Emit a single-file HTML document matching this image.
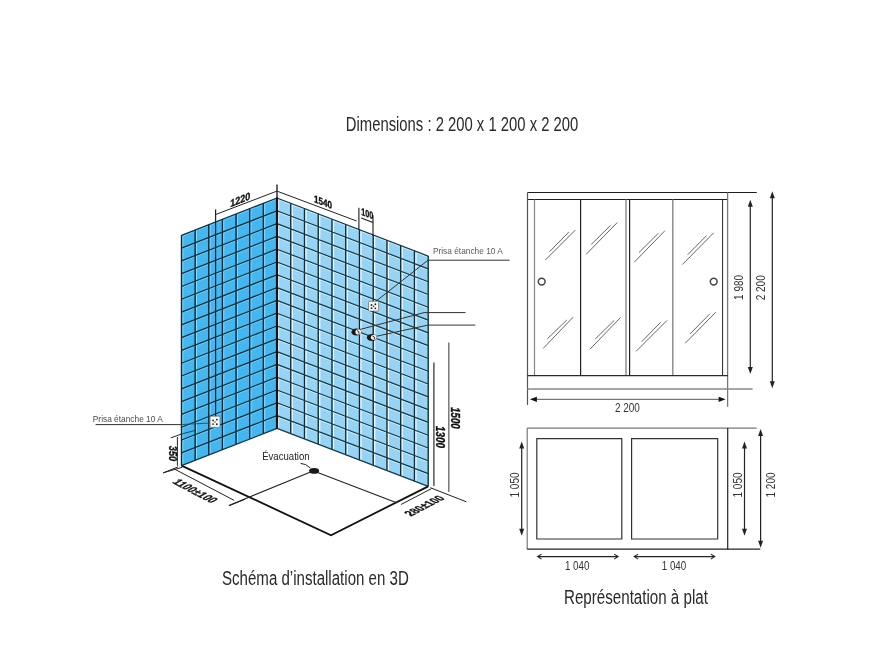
<!DOCTYPE html><html><head><meta charset="utf-8"><style>html,body{margin:0;padding:0;background:#fff;width:894px;height:670px;overflow:hidden}svg{display:block;will-change:transform}</style></head><body><svg width="894" height="670" viewBox="0 0 894 670">
<defs>
<linearGradient id="gl" x1="0" y1="0" x2="0.3" y2="1"><stop offset="0" stop-color="#6cc8f0"/><stop offset="1" stop-color="#2c9fe0"/></linearGradient>
<linearGradient id="gr" x1="0" y1="0" x2="1" y2="0"><stop offset="0" stop-color="#d8f1fb"/><stop offset="0.25" stop-color="#a6daf4"/><stop offset="1" stop-color="#98d3f1"/></linearGradient>
</defs>
<clipPath id="cl"><polygon points="181.50,235.30 277.00,198.00 277.00,428.40 181.50,465.60"/></clipPath>
<clipPath id="cr"><polygon points="277.00,198.00 428.20,256.10 428.20,486.40 277.00,428.40"/></clipPath>
<polygon points="181.50,235.30 277.00,198.00 277.00,428.40 181.50,465.60" fill="#45b6ee"/>
<polygon points="277.00,198.00 428.20,256.10 428.20,486.40 277.00,428.40" fill="#97d3f4"/>
<g clip-path="url(#cl)"><path d="M182.70 235.30L182.70 465.60M196.34 229.97L196.34 460.29M209.99 224.64L209.99 454.97M223.63 219.31L223.63 449.66M237.27 213.99L237.27 444.34M250.91 208.66L250.91 439.03M264.56 203.33L264.56 433.71M278.20 198.00L278.20 428.40" stroke="#8edcf8" stroke-width="1.2" fill="none"/><path d="M181.50 236.40L277.00 199.10M181.50 249.19L277.00 211.90M181.50 261.99L277.00 224.70M181.50 274.78L277.00 237.50M181.50 287.58L277.00 250.30M181.50 300.37L277.00 263.10M181.50 313.17L277.00 275.90M181.50 325.96L277.00 288.70M181.50 338.76L277.00 301.50M181.50 351.55L277.00 314.30M181.50 364.34L277.00 327.10M181.50 377.14L277.00 339.90M181.50 389.93L277.00 352.70M181.50 402.73L277.00 365.50M181.50 415.52L277.00 378.30M181.50 428.32L277.00 391.10M181.50 441.11L277.00 403.90M181.50 453.91L277.00 416.70M181.50 466.70L277.00 429.50" stroke="#7fd2f5" stroke-width="0.9" fill="none"/></g>
<g clip-path="url(#cr)"><path d="M278.30 198.00L278.30 428.40M292.05 203.28L292.05 433.67M305.79 208.56L305.79 438.95M319.54 213.85L319.54 444.22M333.28 219.13L333.28 449.49M347.03 224.41L347.03 454.76M360.77 229.69L360.77 460.04M374.52 234.97L374.52 465.31M388.26 240.25L388.26 470.58M402.01 245.54L402.01 475.85M415.75 250.82L415.75 481.13M429.50 256.10L429.50 486.40" stroke="#f2fbfe" stroke-width="1.6" fill="none"/><path d="M277.00 199.10L428.20 257.20M277.00 211.90L428.20 269.99M277.00 224.70L428.20 282.79M277.00 237.50L428.20 295.58M277.00 250.30L428.20 308.38M277.00 263.10L428.20 321.17M277.00 275.90L428.20 333.97M277.00 288.70L428.20 346.76M277.00 301.50L428.20 359.56M277.00 314.30L428.20 372.35M277.00 327.10L428.20 385.14M277.00 339.90L428.20 397.94M277.00 352.70L428.20 410.73M277.00 365.50L428.20 423.53M277.00 378.30L428.20 436.32M277.00 391.10L428.20 449.12M277.00 403.90L428.20 461.91M277.00 416.70L428.20 474.71M277.00 429.50L428.20 487.50" stroke="#d8f2fc" stroke-width="0.9" fill="none"/></g>
<path d="M181.50 235.30L181.50 465.60M195.14 229.97L195.14 460.29M208.79 224.64L208.79 454.97M222.43 219.31L222.43 449.66M236.07 213.99L236.07 444.34M249.71 208.66L249.71 439.03M263.36 203.33L263.36 433.71M277.00 198.00L277.00 428.40" stroke="#08283c" stroke-width="1.4" fill="none"/><path d="M181.50 235.30L277.00 198.00M181.50 248.09L277.00 210.80M181.50 260.89L277.00 223.60M181.50 273.68L277.00 236.40M181.50 286.48L277.00 249.20M181.50 299.27L277.00 262.00M181.50 312.07L277.00 274.80M181.50 324.86L277.00 287.60M181.50 337.66L277.00 300.40M181.50 350.45L277.00 313.20M181.50 363.24L277.00 326.00M181.50 376.04L277.00 338.80M181.50 388.83L277.00 351.60M181.50 401.63L277.00 364.40M181.50 414.42L277.00 377.20M181.50 427.22L277.00 390.00M181.50 440.01L277.00 402.80M181.50 452.81L277.00 415.60M181.50 465.60L277.00 428.40" stroke="#0b3348" stroke-width="1.25" fill="none"/>
<path d="M277.00 198.00L277.00 428.40M290.75 203.28L290.75 433.67M304.49 208.56L304.49 438.95M318.24 213.85L318.24 444.22M331.98 219.13L331.98 449.49M345.73 224.41L345.73 454.76M359.47 229.69L359.47 460.04M373.22 234.97L373.22 465.31M386.96 240.25L386.96 470.58M400.71 245.54L400.71 475.85M414.45 250.82L414.45 481.13M428.20 256.10L428.20 486.40" stroke="#0d2a36" stroke-width="1.35" fill="none"/><path d="M277.00 198.00L428.20 256.10M277.00 210.80L428.20 268.89M277.00 223.60L428.20 281.69M277.00 236.40L428.20 294.48M277.00 249.20L428.20 307.28M277.00 262.00L428.20 320.07M277.00 274.80L428.20 332.87M277.00 287.60L428.20 345.66M277.00 300.40L428.20 358.46M277.00 313.20L428.20 371.25M277.00 326.00L428.20 384.04M277.00 338.80L428.20 396.84M277.00 351.60L428.20 409.63M277.00 364.40L428.20 422.43M277.00 377.20L428.20 435.22M277.00 390.00L428.20 448.02M277.00 402.80L428.20 460.81M277.00 415.60L428.20 473.61M277.00 428.40L428.20 486.40" stroke="#153a4a" stroke-width="1.2" fill="none"/>
<path d="M277 197.5L277 428.6" stroke="#0a1520" stroke-width="2.2"/>
<path d="M215.6 209.5L215.6 417" stroke="#0c1c28" stroke-width="1.2"/>
<path d="M181.5 465.6L331 535.2L428.2 486.4" stroke="#111" stroke-width="1.8" fill="none"/>
<path d="M313 471L228.8 505.4M315 471.5L396.6 502.8" stroke="#222" stroke-width="1.1" fill="none"/>
<ellipse cx="314.1" cy="470.9" rx="5" ry="2.8" fill="#1a1a1a"/>
<path d="M300.6 463.4Q306 463.5 310.5 468.2" stroke="#222" stroke-width="1" fill="none"/>
<g stroke="#222" stroke-width="1" fill="none">
<path d="M215.5 209.9L215.5 230"/>
<path d="M215.5 214.6L276.7 191.2"/>
<path d="M277 184.5L277 198" stroke="#111" stroke-width="1.3"/>
<path d="M277.2 191.2L356.6 221"/>
<path d="M358.9 207.8L358.9 230M373 215.2L373 236M361.2 218L373 222.5" stroke="#1a1a1a" stroke-width="1.1"/>
<path d="M433.9 362.4L433.9 486.1" stroke="#555" stroke-width="1.5"/>
<path d="M448.8 342.5L448.8 491.9" stroke="#777" stroke-width="1.5"/>
<path d="M430.3 487.7L466.3 501.8"/>
<path d="M431.3 488.7L401 504.5"/>
<path d="M163.1 472.9L178.2 466.8M173.6 468.6L234 500.3M229 505.8L245 499.3"/>
<path d="M170.8 437.9L181.3 434.1M177.4 437L177.4 465.8M163.3 472.8L182.1 467.3"/><path d="M181.3 434.1L196 430.2" stroke="#0c3048" stroke-width="0.8"/>
</g>
<g stroke="#333" stroke-width="1" fill="none">
<path d="M428 260.2L509.6 260.2M428 260.2L375 302"/>
<path d="M424 312.6L465.5 312.6M424 312.6L358 330"/>
<path d="M428 325.1L475.4 325.1M428 325.1L373 337"/>
<path d="M95.6 424.6L181 424.6"/>
<path d="M181 424.6L211 423" stroke="#244" stroke-width="0.8"/>
</g>
<rect x="368.5" y="301.3" width="10.1" height="9.8" rx="1.2" fill="#f8f8f8" stroke="#555" stroke-width="0.6"/><circle cx="371.53" cy="305.024" r="0.9" fill="#222"/><circle cx="375.368" cy="304.24" r="0.9" fill="#222"/><circle cx="371.53" cy="308.16" r="0.9" fill="#222"/><circle cx="375.368" cy="308.356" r="0.9" fill="#222"/><circle cx="373.55" cy="306.396" r="0.8" fill="#444"/>
<rect x="210.1" y="416.2" width="9.9" height="11.2" rx="1.2" fill="#f8f8f8" stroke="#555" stroke-width="0.6"/><circle cx="213.07" cy="420.45599999999996" r="0.9" fill="#222"/><circle cx="216.832" cy="419.56" r="0.9" fill="#222"/><circle cx="213.07" cy="424.03999999999996" r="0.9" fill="#222"/><circle cx="216.832" cy="424.264" r="0.9" fill="#222"/><circle cx="215.04999999999998" cy="422.024" r="0.8" fill="#444"/>
<ellipse cx="356.4" cy="332.1" rx="5.1" ry="3.5" fill="#161616"/><ellipse cx="358.29999999999995" cy="331.90000000000003" rx="2.9" ry="2.6" fill="#eeeeee"/><path d="M357.0 330.5Q359.59999999999997 330.90000000000003 359.0 333.90000000000003" stroke="#222" stroke-width="0.9" fill="none"/>
<ellipse cx="371.9" cy="337.5" rx="5.1" ry="3.5" fill="#161616"/><ellipse cx="373.79999999999995" cy="337.3" rx="2.9" ry="2.6" fill="#eeeeee"/><path d="M372.5 335.9Q375.09999999999997 336.3 374.5 339.3" stroke="#222" stroke-width="0.9" fill="none"/>
<text x="0" y="0" transform="matrix(1.0000 -0.3939 0.0000 1.0000 240.30 203.30)" font-family="Liberation Sans" font-size="10.5" font-weight="bold" font-style="normal" fill="#111" stroke="#111" stroke-width="0.35" text-anchor="middle" textLength="20" lengthAdjust="spacingAndGlyphs">1220</text>
<text x="0" y="0" transform="matrix(1.0000 0.3939 0.0000 1.0000 323.00 205.60)" font-family="Liberation Sans" font-size="10.2" font-weight="bold" font-style="normal" fill="#111" stroke="#111" stroke-width="0.35" text-anchor="middle" textLength="18" lengthAdjust="spacingAndGlyphs">1540</text>
<text x="0" y="0" transform="matrix(1.0000 0.3939 0.0000 1.0000 367.20 217.00)" font-family="Liberation Sans" font-size="10" font-weight="bold" font-style="normal" fill="#111" stroke="#111" stroke-width="0.35" text-anchor="middle" textLength="12" lengthAdjust="spacingAndGlyphs">100</text>
<text x="435.5" y="437" font-family="Liberation Sans" font-size="12" font-weight="bold" font-style="italic" fill="#111" text-anchor="middle" textLength="22" lengthAdjust="spacingAndGlyphs" transform="rotate(90 435.5 437)" stroke="#111" stroke-width="0.35">1300</text>
<text x="450.5" y="418" font-family="Liberation Sans" font-size="12" font-weight="bold" font-style="italic" fill="#111" text-anchor="middle" textLength="21.5" lengthAdjust="spacingAndGlyphs" transform="rotate(90 450.5 418)" stroke="#111" stroke-width="0.35">1500</text>
<text x="169" y="453.5" font-family="Liberation Sans" font-size="11.5" font-weight="bold" font-style="italic" fill="#111" text-anchor="middle" textLength="15.5" lengthAdjust="spacingAndGlyphs" transform="rotate(90 169 453.5)" stroke="#111" stroke-width="0.35">350</text>
<text x="0" y="0" transform="matrix(0.8852 0.4651 -0.8890 0.4580 191.30 493.00)" font-family="Liberation Sans" font-size="12.5" font-weight="bold" font-style="normal" fill="#111" stroke="#111" stroke-width="0.35" text-anchor="middle" textLength="45" lengthAdjust="spacingAndGlyphs">1100±100</text>
<text x="0" y="0" transform="matrix(0.8890 -0.4580 0.9061 0.4230 428.30 507.60)" font-family="Liberation Sans" font-size="12.5" font-weight="bold" font-style="normal" fill="#111" stroke="#111" stroke-width="0.35" text-anchor="middle" textLength="39" lengthAdjust="spacingAndGlyphs">280±100</text>
<text x="262.2" y="459.9" font-family="Liberation Sans" font-size="10.2" font-weight="normal" font-style="normal" fill="#222" text-anchor="start" textLength="47.4" lengthAdjust="spacingAndGlyphs">Évacuation</text>
<text x="432.9" y="253.9" font-family="Liberation Sans" font-size="9.8" font-weight="normal" font-style="normal" fill="#5a5a5a" text-anchor="start" textLength="70" lengthAdjust="spacingAndGlyphs">Prisa étanche 10 A</text>
<text x="92.8" y="421.5" font-family="Liberation Sans" font-size="9.8" font-weight="normal" font-style="normal" fill="#4a4a4a" text-anchor="start" textLength="70" lengthAdjust="spacingAndGlyphs">Prisa étanche 10 A</text>
<g fill="none" stroke-width="1.2">
<path d="M527.5 192.5L756.8 192.5" stroke="#1e1e1e" stroke-width="1.1"/>
<path d="M527.5 199.5L727.9 199.5" stroke="#1e1e1e" stroke-width="1.1"/>
<path d="M527.5 192.5L527.5 405" stroke="#555"/>
<path d="M727.6 192.5L727.6 406.8" stroke="#777" stroke-width="1.3"/>
<path d="M534.5 199.5L534.5 375.6" stroke="#888"/>
<path d="M722.6 199.5L722.6 375.6" stroke="#222" stroke-width="1"/>
<path d="M580.6 199.5L580.6 375.6" stroke="#222"/>
<path d="M626 199.5L626 375.6" stroke="#888" stroke-width="1.4"/>
<path d="M629.6 199.5L629.6 375.6" stroke="#222"/>
<path d="M672.8 199.5L672.8 375.6" stroke="#888" stroke-width="1.4"/>
<path d="M527.5 375.6L727.9 375.6" stroke="#2a2a2a"/>
<path d="M527.5 389L752.6 389" stroke="#888" stroke-width="1.4"/>
</g>
<path d="M549.6 251.6L568.9 231.9M545.4 260.0L575.3 230.1M591.3 244.4L610.6 225.3M586.1 254.4L617.2 222.6M639.0 252.5L658.4 233.2M634.2 262.3L664.9 230.7M687.7 254.7L706.6 235.6M682.4 264.5L713.7 232.8M547.4 338.8L566.8 320.0M543.2 348.4L573.1 317.2M595.1 339.1L614.3 320.4M589.9 349.3L620.5 317.5M641.6 341.8L660.6 322.4M636.1 351.3L667.0 320.4M690.1 333.9L709.6 314.0M685.2 343.3L715.8 312.2" stroke="#555" stroke-width="0.9" fill="none"/>
<circle cx="541.7" cy="281.6" r="3.4" fill="none" stroke="#444" stroke-width="1.5"/>
<circle cx="713.7" cy="281.6" r="3.4" fill="none" stroke="#444" stroke-width="1.5"/>
<path d="M750.3 204.7L750.3 369" stroke="#222" stroke-width="1.2"/><path d="M750.3 199.7L747.8 206.7L752.8 206.7Z" fill="#222"/><path d="M750.3 374L747.8 367L752.8 367Z" fill="#222"/>
<path d="M772.3 196.3L772.3 383.3" stroke="#222" stroke-width="1.2"/><path d="M772.3 191.3L769.8 198.3L774.8 198.3Z" fill="#222"/><path d="M772.3 388.3L769.8 381.3L774.8 381.3Z" fill="#222"/>
<path d="M534.9 399.3L720.6 399.3" stroke="#777" stroke-width="1.3"/><path d="M529.9 399.3L536.9 396.7L536.9 401.90000000000003Z" fill="#111"/><path d="M725.6 399.3L718.6 396.7L718.6 401.90000000000003Z" fill="#111"/>
<text x="743.3" y="287.4" font-family="Liberation Sans" font-size="12.8" font-weight="normal" font-style="normal" fill="#333" text-anchor="middle" textLength="25" lengthAdjust="spacingAndGlyphs" transform="rotate(-90 743.3 287.4)">1 980</text>
<text x="764.9" y="287.8" font-family="Liberation Sans" font-size="12.8" font-weight="normal" font-style="normal" fill="#333" text-anchor="middle" textLength="25" lengthAdjust="spacingAndGlyphs" transform="rotate(-90 764.9 287.8)">2 200</text>
<text x="627.4" y="411.6" font-family="Liberation Sans" font-size="12.5" font-weight="normal" font-style="normal" fill="#333" text-anchor="middle" textLength="25" lengthAdjust="spacingAndGlyphs">2 200</text>
<g fill="none" stroke-width="1.2">
<path d="M527.2 428.1L756.7 428.1" stroke="#777"/>
<path d="M527.2 428.1L527.2 549.2" stroke="#777"/>
<path d="M527.2 549.2L760.3 549.2" stroke="#222"/>
<path d="M727.7 428.1L727.7 549.2" stroke="#222"/>
<path d="M536.8 438.6L621.8 438.6L621.8 539L536.8 539Z" stroke="#333"/>
<path d="M631.6 438.6L717.7 438.6L717.7 539L631.6 539Z" stroke="#333"/>
</g>
<path d="M521.7 446.5L521.7 530.8" stroke="#222" stroke-width="1.2"/><path d="M521.7 441.5L519.2 448.5L524.2 448.5Z" fill="#222"/><path d="M521.7 535.8L519.2 528.8L524.2 528.8Z" fill="#222"/>
<path d="M744.5 446.5L744.5 530.8" stroke="#222" stroke-width="1.2"/><path d="M744.5 441.5L742.0 448.5L747.0 448.5Z" fill="#222"/><path d="M744.5 535.8L742.0 528.8L747.0 528.8Z" fill="#222"/>
<path d="M760.6 434L760.6 542.7" stroke="#222" stroke-width="1.2"/><path d="M760.6 429L758.1 436L763.1 436Z" fill="#222"/><path d="M760.6 547.7L758.1 540.7L763.1 540.7Z" fill="#222"/>
<path d="M537.6 556.6L618.1 556.6M541.6 554.1L537.6 556.6L541.6 559.1M614.1 554.1L618.1 556.6L614.1 559.1" stroke="#222" stroke-width="1.1" fill="none"/>
<path d="M634.2 556.6L714.8 556.6M638.2 554.1L634.2 556.6L638.2 559.1M710.8 554.1L714.8 556.6L710.8 559.1" stroke="#222" stroke-width="1.1" fill="none"/>
<text x="577.2" y="569.8" font-family="Liberation Sans" font-size="12.3" font-weight="normal" font-style="normal" fill="#333" text-anchor="middle" textLength="24.5" lengthAdjust="spacingAndGlyphs">1 040</text>
<text x="674" y="569.8" font-family="Liberation Sans" font-size="12.3" font-weight="normal" font-style="normal" fill="#333" text-anchor="middle" textLength="24.5" lengthAdjust="spacingAndGlyphs">1 040</text>
<text x="519" y="485" font-family="Liberation Sans" font-size="12.5" font-weight="normal" font-style="normal" fill="#333" text-anchor="middle" textLength="25" lengthAdjust="spacingAndGlyphs" transform="rotate(-90 519 485)">1 050</text>
<text x="742.4" y="485" font-family="Liberation Sans" font-size="12.5" font-weight="normal" font-style="normal" fill="#333" text-anchor="middle" textLength="25" lengthAdjust="spacingAndGlyphs" transform="rotate(-90 742.4 485)">1 050</text>
<text x="775.2" y="485" font-family="Liberation Sans" font-size="12.5" font-weight="normal" font-style="normal" fill="#333" text-anchor="middle" textLength="25" lengthAdjust="spacingAndGlyphs" transform="rotate(-90 775.2 485)">1 200</text>
<text x="345.8" y="130.8" font-family="Liberation Sans" font-size="19.4" font-weight="normal" font-style="normal" fill="#2a2a2a" text-anchor="start" textLength="232.5" lengthAdjust="spacingAndGlyphs">Dimensions : 2 200 x 1 200 x 2 200</text>
<text x="222.0" y="584.7" font-family="Liberation Sans" font-size="19.4" font-weight="normal" font-style="normal" fill="#2a2a2a" text-anchor="start" textLength="186.8" lengthAdjust="spacingAndGlyphs">Schéma d’installation en 3D</text>
<text x="564.0" y="604.2" font-family="Liberation Sans" font-size="19.4" font-weight="normal" font-style="normal" fill="#2a2a2a" text-anchor="start" textLength="143.9" lengthAdjust="spacingAndGlyphs">Représentation à plat</text>
</svg></body></html>
